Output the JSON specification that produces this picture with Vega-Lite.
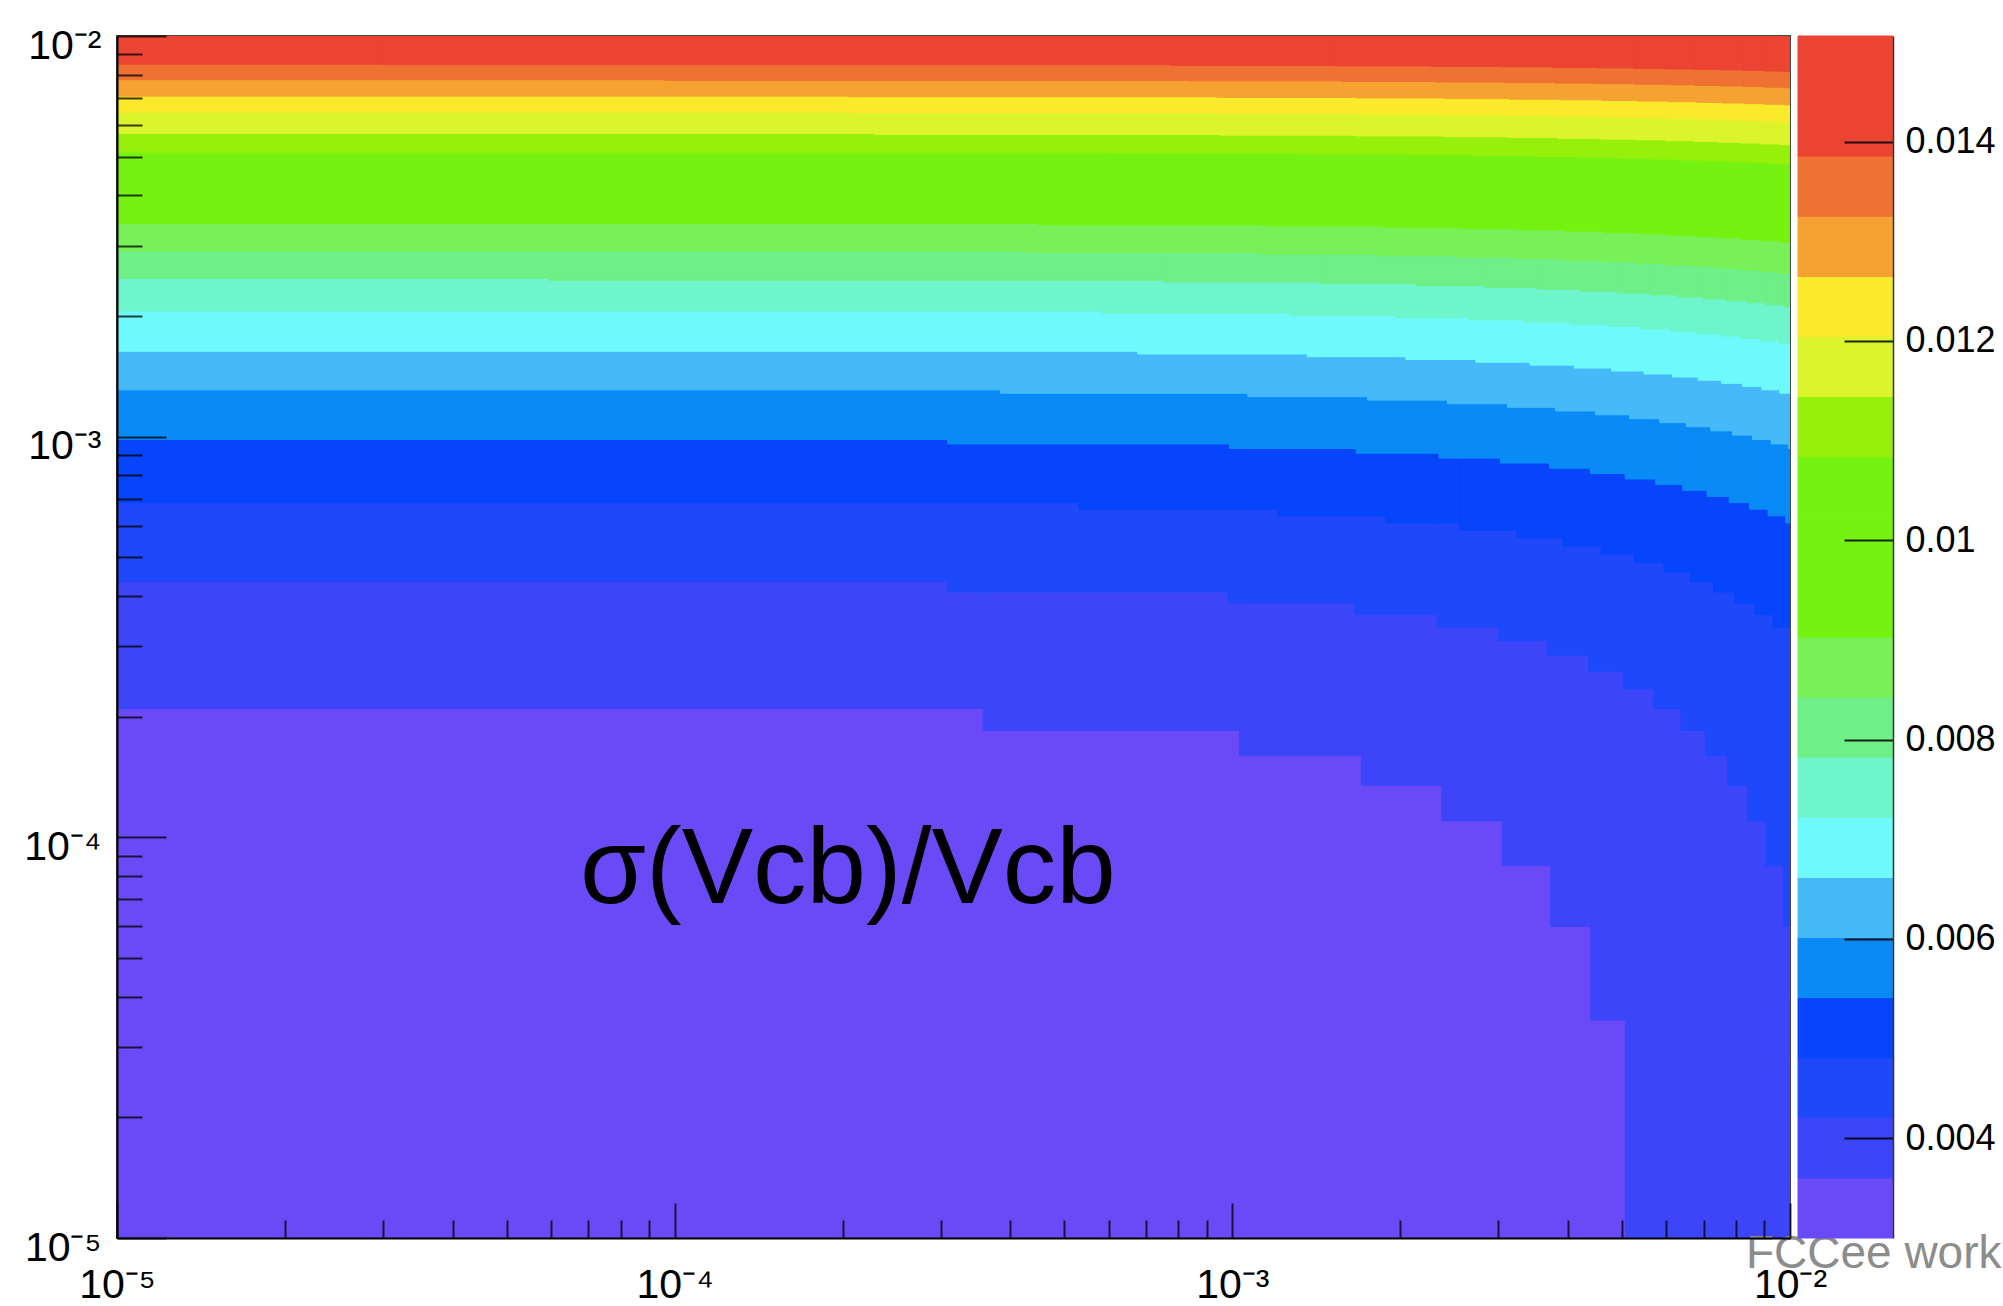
{
  "$schema": "https://vega.github.io/schema/vega-lite/v6.json",
  "background": "white",
  "padding": {"left": 5, "top": 24, "right": 0, "bottom": 0},
  "bounds": "flush",
  "spacing": 8,
  "config": {"view": {"stroke": null}, "axis": {"grid": false, "title": null}},
  "hconcat": [
    {
      "width": 1673,
      "height": 1202,
      "view": {"stroke": "#444", "strokeWidth": 2},
      "resolve": {"axis": {"x": "independent", "y": "independent"}},
      "layer": [
        {
          "data": {"values": [
            {"b":0,"x0":1e-5,"x1":1e-2,"y":1e-5},
            {"b":1,"x0":1e-5,"x1":3.574e-4,"y":2.098e-4},
            {"b":1,"x0":3.574e-4,"x1":1.0303e-3,"y":1.8483e-4},
            {"b":1,"x0":1.0303e-3,"x1":1.7032e-3,"y":1.5985e-4},
            {"b":1,"x0":1.7032e-3,"x1":2.3761e-3,"y":1.3488e-4},
            {"b":1,"x0":2.3761e-3,"x1":3.049e-3,"y":1.099e-4},
            {"b":1,"x0":3.049e-3,"x1":3.7219e-3,"y":8.4925e-5},
            {"b":1,"x0":3.7219e-3,"x1":4.3948e-3,"y":5.995e-5},
            {"b":1,"x0":4.3948e-3,"x1":5.0677e-3,"y":3.4975e-5},
            {"b":1,"x0":5.0677e-3,"x1":1e-2,"y":1e-5},
            {"b":2,"x0":1e-5,"x1":3.087e-4,"y":4.3458e-4},
            {"b":2,"x0":3.087e-4,"x1":9.829e-4,"y":4.096e-4},
            {"b":2,"x0":9.829e-4,"x1":1.6571e-3,"y":3.8463e-4},
            {"b":2,"x0":1.6571e-3,"x1":2.3313e-3,"y":3.5965e-4},
            {"b":2,"x0":2.3313e-3,"x1":3.0055e-3,"y":3.3468e-4},
            {"b":2,"x0":3.0055e-3,"x1":3.6797e-3,"y":3.097e-4},
            {"b":2,"x0":3.6797e-3,"x1":4.3539e-3,"y":2.8473e-4},
            {"b":2,"x0":4.3539e-3,"x1":5.0281e-3,"y":2.5975e-4},
            {"b":2,"x0":5.0281e-3,"x1":5.7023e-3,"y":2.3478e-4},
            {"b":2,"x0":5.7023e-3,"x1":6.3765e-3,"y":2.098e-4},
            {"b":2,"x0":6.3765e-3,"x1":7.0507e-3,"y":1.8483e-4},
            {"b":2,"x0":7.0507e-3,"x1":7.7249e-3,"y":1.5985e-4},
            {"b":2,"x0":7.7249e-3,"x1":8.3991e-3,"y":1.3488e-4},
            {"b":2,"x0":8.3991e-3,"x1":9.0733e-3,"y":1.099e-4},
            {"b":2,"x0":9.0733e-3,"x1":9.7475e-3,"y":8.493e-5},
            {"b":2,"x0":9.7475e-3,"x1":1e-2,"y":5.995e-5},
            {"b":3,"x0":1e-5,"x1":5.307e-4,"y":6.8433e-4},
            {"b":3,"x0":5.307e-4,"x1":1.2073e-3,"y":6.5935e-4},
            {"b":3,"x0":1.2073e-3,"x1":1.8839e-3,"y":6.3438e-4},
            {"b":3,"x0":1.8839e-3,"x1":2.5605e-3,"y":6.094e-4},
            {"b":3,"x0":2.5605e-3,"x1":3.2371e-3,"y":5.8443e-4},
            {"b":3,"x0":3.2371e-3,"x1":3.9137e-3,"y":5.5945e-4},
            {"b":3,"x0":3.9137e-3,"x1":4.5903e-3,"y":5.3448e-4},
            {"b":3,"x0":4.5903e-3,"x1":5.2669e-3,"y":5.095e-4},
            {"b":3,"x0":5.2669e-3,"x1":5.9435e-3,"y":4.8453e-4},
            {"b":3,"x0":5.9435e-3,"x1":6.6201e-3,"y":4.5955e-4},
            {"b":3,"x0":6.6201e-3,"x1":7.2967e-3,"y":4.3458e-4},
            {"b":3,"x0":7.2967e-3,"x1":7.9733e-3,"y":4.096e-4},
            {"b":3,"x0":7.9733e-3,"x1":8.6499e-3,"y":3.8463e-4},
            {"b":3,"x0":8.6499e-3,"x1":9.3265e-3,"y":3.5965e-4},
            {"b":3,"x0":9.3265e-3,"x1":1e-2,"y":3.3468e-4},
            {"b":4,"x0":1e-5,"x1":3.087e-4,"y":9.8403e-4},
            {"b":4,"x0":3.087e-4,"x1":9.879e-4,"y":9.5905e-4},
            {"b":4,"x0":9.879e-4,"x1":1.6671e-3,"y":9.3408e-4},
            {"b":4,"x0":1.6671e-3,"x1":2.3463e-3,"y":9.091e-4},
            {"b":4,"x0":2.3463e-3,"x1":3.0255e-3,"y":8.8413e-4},
            {"b":4,"x0":3.0255e-3,"x1":3.7047e-3,"y":8.5915e-4},
            {"b":4,"x0":3.7047e-3,"x1":4.3839e-3,"y":8.3418e-4},
            {"b":4,"x0":4.3839e-3,"x1":5.0631e-3,"y":8.092e-4},
            {"b":4,"x0":5.0631e-3,"x1":5.7423e-3,"y":7.8423e-4},
            {"b":4,"x0":5.7423e-3,"x1":6.4215e-3,"y":7.5925e-4},
            {"b":4,"x0":6.4215e-3,"x1":7.1007e-3,"y":7.3428e-4},
            {"b":4,"x0":7.1007e-3,"x1":7.7799e-3,"y":7.093e-4},
            {"b":4,"x0":7.7799e-3,"x1":8.4591e-3,"y":6.8433e-4},
            {"b":4,"x0":8.4591e-3,"x1":9.1383e-3,"y":6.5935e-4},
            {"b":4,"x0":9.1383e-3,"x1":9.8175e-3,"y":6.3438e-4},
            {"b":4,"x0":9.8175e-3,"x1":1e-2,"y":6.094e-4},
            {"b":5,"x0":1e-5,"x1":3.84e-4,"y":1.3087e-3},
            {"b":5,"x0":3.84e-4,"x1":1.0661e-3,"y":1.28373e-3},
            {"b":5,"x0":1.0661e-3,"x1":1.7482e-3,"y":1.25875e-3},
            {"b":5,"x0":1.7482e-3,"x1":2.4303e-3,"y":1.23378e-3},
            {"b":5,"x0":2.4303e-3,"x1":3.1124e-3,"y":1.2088e-3},
            {"b":5,"x0":3.1124e-3,"x1":3.7945e-3,"y":1.18383e-3},
            {"b":5,"x0":3.7945e-3,"x1":4.4766e-3,"y":1.15885e-3},
            {"b":5,"x0":4.4766e-3,"x1":5.1587e-3,"y":1.13388e-3},
            {"b":5,"x0":5.1587e-3,"x1":5.8408e-3,"y":1.1089e-3},
            {"b":5,"x0":5.8408e-3,"x1":6.5229e-3,"y":1.08393e-3},
            {"b":5,"x0":6.5229e-3,"x1":7.205e-3,"y":1.05895e-3},
            {"b":5,"x0":7.205e-3,"x1":7.8871e-3,"y":1.03398e-3},
            {"b":5,"x0":7.8871e-3,"x1":8.5692e-3,"y":1.009e-3},
            {"b":5,"x0":8.5692e-3,"x1":9.2513e-3,"y":9.8403e-4},
            {"b":5,"x0":9.2513e-3,"x1":9.9334e-3,"y":9.5905e-4},
            {"b":5,"x0":9.9334e-3,"x1":1e-2,"y":9.3408e-4},
            {"b":6,"x0":1e-5,"x1":6.77e-4,"y":1.63338e-3},
            {"b":6,"x0":6.77e-4,"x1":1.3624e-3,"y":1.6084e-3},
            {"b":6,"x0":1.3624e-3,"x1":2.0478e-3,"y":1.58343e-3},
            {"b":6,"x0":2.0478e-3,"x1":2.7332e-3,"y":1.55845e-3},
            {"b":6,"x0":2.7332e-3,"x1":3.4186e-3,"y":1.53348e-3},
            {"b":6,"x0":3.4186e-3,"x1":4.104e-3,"y":1.5085e-3},
            {"b":6,"x0":4.104e-3,"x1":4.7894e-3,"y":1.48353e-3},
            {"b":6,"x0":4.7894e-3,"x1":5.4748e-3,"y":1.45855e-3},
            {"b":6,"x0":5.4748e-3,"x1":6.1602e-3,"y":1.43358e-3},
            {"b":6,"x0":6.1602e-3,"x1":6.8456e-3,"y":1.4086e-3},
            {"b":6,"x0":6.8456e-3,"x1":7.531e-3,"y":1.38363e-3},
            {"b":6,"x0":7.531e-3,"x1":8.2164e-3,"y":1.35865e-3},
            {"b":6,"x0":8.2164e-3,"x1":8.9018e-3,"y":1.33368e-3},
            {"b":6,"x0":8.9018e-3,"x1":9.5872e-3,"y":1.3087e-3},
            {"b":6,"x0":9.5872e-3,"x1":1e-2,"y":1.28373e-3},
            {"b":7,"x0":1e-5,"x1":5.837e-4,"y":2.05795e-3},
            {"b":7,"x0":5.837e-4,"x1":1.2726e-3,"y":2.03298e-3},
            {"b":7,"x0":1.2726e-3,"x1":1.9615e-3,"y":2.008e-3},
            {"b":7,"x0":1.9615e-3,"x1":2.6504e-3,"y":1.98303e-3},
            {"b":7,"x0":2.6504e-3,"x1":3.3393e-3,"y":1.95805e-3},
            {"b":7,"x0":3.3393e-3,"x1":4.0282e-3,"y":1.93308e-3},
            {"b":7,"x0":4.0282e-3,"x1":4.7171e-3,"y":1.9081e-3},
            {"b":7,"x0":4.7171e-3,"x1":5.406e-3,"y":1.88313e-3},
            {"b":7,"x0":5.406e-3,"x1":6.0949e-3,"y":1.85815e-3},
            {"b":7,"x0":6.0949e-3,"x1":6.7838e-3,"y":1.83318e-3},
            {"b":7,"x0":6.7838e-3,"x1":7.4727e-3,"y":1.8082e-3},
            {"b":7,"x0":7.4727e-3,"x1":8.1616e-3,"y":1.78323e-3},
            {"b":7,"x0":8.1616e-3,"x1":8.8505e-3,"y":1.75825e-3},
            {"b":7,"x0":8.8505e-3,"x1":9.5394e-3,"y":1.73328e-3},
            {"b":7,"x0":9.5394e-3,"x1":1e-2,"y":1.7083e-3},
            {"b":8,"x0":1e-5,"x1":5.94e-5,"y":2.48253e-3},
            {"b":8,"x0":5.94e-5,"x1":7.521e-4,"y":2.45755e-3},
            {"b":8,"x0":7.521e-4,"x1":1.4448e-3,"y":2.43258e-3},
            {"b":8,"x0":1.4448e-3,"x1":2.1375e-3,"y":2.4076e-3},
            {"b":8,"x0":2.1375e-3,"x1":2.8302e-3,"y":2.38263e-3},
            {"b":8,"x0":2.8302e-3,"x1":3.5229e-3,"y":2.35765e-3},
            {"b":8,"x0":3.5229e-3,"x1":4.2156e-3,"y":2.33268e-3},
            {"b":8,"x0":4.2156e-3,"x1":4.9083e-3,"y":2.3077e-3},
            {"b":8,"x0":4.9083e-3,"x1":5.601e-3,"y":2.28273e-3},
            {"b":8,"x0":5.601e-3,"x1":6.2937e-3,"y":2.25775e-3},
            {"b":8,"x0":6.2937e-3,"x1":6.9864e-3,"y":2.23278e-3},
            {"b":8,"x0":6.9864e-3,"x1":7.6791e-3,"y":2.2078e-3},
            {"b":8,"x0":7.6791e-3,"x1":8.3718e-3,"y":2.18283e-3},
            {"b":8,"x0":8.3718e-3,"x1":9.0645e-3,"y":2.15785e-3},
            {"b":8,"x0":9.0645e-3,"x1":9.7572e-3,"y":2.13288e-3},
            {"b":8,"x0":9.7572e-3,"x1":1e-2,"y":2.1079e-3},
            {"b":9,"x0":1e-5,"x1":4.242e-4,"y":2.9071e-3},
            {"b":9,"x0":4.242e-4,"x1":1.121e-3,"y":2.88213e-3},
            {"b":9,"x0":1.121e-3,"x1":1.8178e-3,"y":2.85715e-3},
            {"b":9,"x0":1.8178e-3,"x1":2.5146e-3,"y":2.83218e-3},
            {"b":9,"x0":2.5146e-3,"x1":3.2114e-3,"y":2.8072e-3},
            {"b":9,"x0":3.2114e-3,"x1":3.9082e-3,"y":2.78223e-3},
            {"b":9,"x0":3.9082e-3,"x1":4.605e-3,"y":2.75725e-3},
            {"b":9,"x0":4.605e-3,"x1":5.3018e-3,"y":2.73228e-3},
            {"b":9,"x0":5.3018e-3,"x1":5.9986e-3,"y":2.7073e-3},
            {"b":9,"x0":5.9986e-3,"x1":6.6954e-3,"y":2.68233e-3},
            {"b":9,"x0":6.6954e-3,"x1":7.3922e-3,"y":2.65735e-3},
            {"b":9,"x0":7.3922e-3,"x1":8.089e-3,"y":2.63238e-3},
            {"b":9,"x0":8.089e-3,"x1":8.7858e-3,"y":2.6074e-3},
            {"b":9,"x0":8.7858e-3,"x1":9.4826e-3,"y":2.58243e-3},
            {"b":9,"x0":9.4826e-3,"x1":1e-2,"y":2.55745e-3},
            {"b":10,"x0":1e-5,"x1":4.48e-4,"y":3.4066e-3},
            {"b":10,"x0":4.48e-4,"x1":1.1492e-3,"y":3.38163e-3},
            {"b":10,"x0":1.1492e-3,"x1":1.8504e-3,"y":3.35665e-3},
            {"b":10,"x0":1.8504e-3,"x1":2.5516e-3,"y":3.33168e-3},
            {"b":10,"x0":2.5516e-3,"x1":3.2528e-3,"y":3.3067e-3},
            {"b":10,"x0":3.2528e-3,"x1":3.954e-3,"y":3.28173e-3},
            {"b":10,"x0":3.954e-3,"x1":4.6552e-3,"y":3.25675e-3},
            {"b":10,"x0":4.6552e-3,"x1":5.3564e-3,"y":3.23178e-3},
            {"b":10,"x0":5.3564e-3,"x1":6.0576e-3,"y":3.2068e-3},
            {"b":10,"x0":6.0576e-3,"x1":6.7588e-3,"y":3.18183e-3},
            {"b":10,"x0":6.7588e-3,"x1":7.46e-3,"y":3.15685e-3},
            {"b":10,"x0":7.46e-3,"x1":8.1612e-3,"y":3.13188e-3},
            {"b":10,"x0":8.1612e-3,"x1":8.8624e-3,"y":3.1069e-3},
            {"b":10,"x0":8.8624e-3,"x1":9.5636e-3,"y":3.08193e-3},
            {"b":10,"x0":9.5636e-3,"x1":1e-2,"y":3.05695e-3},
            {"b":13,"x0":1e-5,"x1":6.02e-4,"y":5.12988e-3},
            {"b":13,"x0":6.02e-4,"x1":1.3179e-3,"y":5.1049e-3},
            {"b":13,"x0":1.3179e-3,"x1":2.0338e-3,"y":5.07993e-3},
            {"b":13,"x0":2.0338e-3,"x1":2.7497e-3,"y":5.05495e-3},
            {"b":13,"x0":2.7497e-3,"x1":3.4656e-3,"y":5.02998e-3},
            {"b":13,"x0":3.4656e-3,"x1":4.1815e-3,"y":5.005e-3},
            {"b":13,"x0":4.1815e-3,"x1":4.8974e-3,"y":4.98003e-3},
            {"b":13,"x0":4.8974e-3,"x1":5.6133e-3,"y":4.95505e-3},
            {"b":13,"x0":5.6133e-3,"x1":6.3292e-3,"y":4.93008e-3},
            {"b":13,"x0":6.3292e-3,"x1":7.0451e-3,"y":4.9051e-3},
            {"b":13,"x0":7.0451e-3,"x1":7.761e-3,"y":4.88013e-3},
            {"b":13,"x0":7.761e-3,"x1":8.4769e-3,"y":4.85515e-3},
            {"b":13,"x0":8.4769e-3,"x1":9.1928e-3,"y":4.83018e-3},
            {"b":13,"x0":9.1928e-3,"x1":9.9087e-3,"y":4.8052e-3},
            {"b":13,"x0":9.9087e-3,"x1":1e-2,"y":4.78023e-3},
            {"b":14,"x0":1e-5,"x1":2.286e-4,"y":5.7043e-3},
            {"b":14,"x0":2.286e-4,"x1":9.5e-4,"y":5.67933e-3},
            {"b":14,"x0":9.5e-4,"x1":1.6714e-3,"y":5.65435e-3},
            {"b":14,"x0":1.6714e-3,"x1":2.3928e-3,"y":5.62938e-3},
            {"b":14,"x0":2.3928e-3,"x1":3.1142e-3,"y":5.6044e-3},
            {"b":14,"x0":3.1142e-3,"x1":3.8356e-3,"y":5.57943e-3},
            {"b":14,"x0":3.8356e-3,"x1":4.557e-3,"y":5.55445e-3},
            {"b":14,"x0":4.557e-3,"x1":5.2784e-3,"y":5.52948e-3},
            {"b":14,"x0":5.2784e-3,"x1":5.9998e-3,"y":5.5045e-3},
            {"b":14,"x0":5.9998e-3,"x1":6.7212e-3,"y":5.47953e-3},
            {"b":14,"x0":6.7212e-3,"x1":7.4426e-3,"y":5.45455e-3},
            {"b":14,"x0":7.4426e-3,"x1":8.164e-3,"y":5.42958e-3},
            {"b":14,"x0":8.164e-3,"x1":8.8854e-3,"y":5.4046e-3},
            {"b":14,"x0":8.8854e-3,"x1":9.6068e-3,"y":5.37963e-3},
            {"b":14,"x0":9.6068e-3,"x1":1e-2,"y":5.35465e-3},
            {"b":15,"x0":1e-5,"x1":2.103e-4,"y":6.45355e-3},
            {"b":15,"x0":2.103e-4,"x1":9.373e-4,"y":6.42858e-3},
            {"b":15,"x0":9.373e-4,"x1":1.6643e-3,"y":6.4036e-3},
            {"b":15,"x0":1.6643e-3,"x1":2.3913e-3,"y":6.37863e-3},
            {"b":15,"x0":2.3913e-3,"x1":3.1183e-3,"y":6.35365e-3},
            {"b":15,"x0":3.1183e-3,"x1":3.8453e-3,"y":6.32868e-3},
            {"b":15,"x0":3.8453e-3,"x1":4.5723e-3,"y":6.3037e-3},
            {"b":15,"x0":4.5723e-3,"x1":5.2993e-3,"y":6.27873e-3},
            {"b":15,"x0":5.2993e-3,"x1":6.0263e-3,"y":6.25375e-3},
            {"b":15,"x0":6.0263e-3,"x1":6.7533e-3,"y":6.22878e-3},
            {"b":15,"x0":6.7533e-3,"x1":7.4803e-3,"y":6.2038e-3},
            {"b":15,"x0":7.4803e-3,"x1":8.2073e-3,"y":6.17883e-3},
            {"b":15,"x0":8.2073e-3,"x1":8.9343e-3,"y":6.15385e-3},
            {"b":15,"x0":8.9343e-3,"x1":9.6613e-3,"y":6.12888e-3},
            {"b":15,"x0":9.6613e-3,"x1":1e-2,"y":6.1039e-3},
            {"b":16,"x0":1e-5,"x1":2.05e-4,"y":7.07793e-3},
            {"b":16,"x0":2.05e-4,"x1":9.38e-4,"y":7.05295e-3},
            {"b":16,"x0":9.38e-4,"x1":1.671e-3,"y":7.02798e-3},
            {"b":16,"x0":1.671e-3,"x1":2.404e-3,"y":7.003e-3},
            {"b":16,"x0":2.404e-3,"x1":3.137e-3,"y":6.97803e-3},
            {"b":16,"x0":3.137e-3,"x1":3.87e-3,"y":6.95305e-3},
            {"b":16,"x0":3.87e-3,"x1":4.603e-3,"y":6.92808e-3},
            {"b":16,"x0":4.603e-3,"x1":5.336e-3,"y":6.9031e-3},
            {"b":16,"x0":5.336e-3,"x1":6.069e-3,"y":6.87813e-3},
            {"b":16,"x0":6.069e-3,"x1":6.802e-3,"y":6.85315e-3},
            {"b":16,"x0":6.802e-3,"x1":7.535e-3,"y":6.82818e-3},
            {"b":16,"x0":7.535e-3,"x1":8.268e-3,"y":6.8032e-3},
            {"b":16,"x0":8.268e-3,"x1":9.001e-3,"y":6.77823e-3},
            {"b":16,"x0":9.001e-3,"x1":9.734e-3,"y":6.75325e-3},
            {"b":16,"x0":9.734e-3,"x1":1e-2,"y":6.72828e-3},
            {"b":17,"x0":1e-5,"x1":9.6e-5,"y":7.77723e-3},
            {"b":17,"x0":9.6e-5,"x1":8.351e-4,"y":7.75225e-3},
            {"b":17,"x0":8.351e-4,"x1":1.5742e-3,"y":7.72728e-3},
            {"b":17,"x0":1.5742e-3,"x1":2.3133e-3,"y":7.7023e-3},
            {"b":17,"x0":2.3133e-3,"x1":3.0524e-3,"y":7.67733e-3},
            {"b":17,"x0":3.0524e-3,"x1":3.7915e-3,"y":7.65235e-3},
            {"b":17,"x0":3.7915e-3,"x1":4.5306e-3,"y":7.62738e-3},
            {"b":17,"x0":4.5306e-3,"x1":5.2697e-3,"y":7.6024e-3},
            {"b":17,"x0":5.2697e-3,"x1":6.0088e-3,"y":7.57743e-3},
            {"b":17,"x0":6.0088e-3,"x1":6.7479e-3,"y":7.55245e-3},
            {"b":17,"x0":6.7479e-3,"x1":7.487e-3,"y":7.52748e-3},
            {"b":17,"x0":7.487e-3,"x1":8.2261e-3,"y":7.5025e-3},
            {"b":17,"x0":8.2261e-3,"x1":8.9652e-3,"y":7.47753e-3},
            {"b":17,"x0":8.9652e-3,"x1":9.7043e-3,"y":7.45255e-3},
            {"b":17,"x0":9.7043e-3,"x1":1e-2,"y":7.42758e-3},
            {"b":18,"x0":1e-5,"x1":3e-5,"y":8.5015e-3},
            {"b":18,"x0":3e-5,"x1":7.753e-4,"y":8.47653e-3},
            {"b":18,"x0":7.753e-4,"x1":1.5206e-3,"y":8.45155e-3},
            {"b":18,"x0":1.5206e-3,"x1":2.2659e-3,"y":8.42658e-3},
            {"b":18,"x0":2.2659e-3,"x1":3.0112e-3,"y":8.4016e-3},
            {"b":18,"x0":3.0112e-3,"x1":3.7565e-3,"y":8.37663e-3},
            {"b":18,"x0":3.7565e-3,"x1":4.5018e-3,"y":8.35165e-3},
            {"b":18,"x0":4.5018e-3,"x1":5.2471e-3,"y":8.32668e-3},
            {"b":18,"x0":5.2471e-3,"x1":5.9924e-3,"y":8.3017e-3},
            {"b":18,"x0":5.9924e-3,"x1":6.7377e-3,"y":8.27673e-3},
            {"b":18,"x0":6.7377e-3,"x1":7.483e-3,"y":8.25175e-3},
            {"b":18,"x0":7.483e-3,"x1":8.2283e-3,"y":8.22678e-3},
            {"b":18,"x0":8.2283e-3,"x1":8.9736e-3,"y":8.2018e-3},
            {"b":18,"x0":8.9736e-3,"x1":9.7189e-3,"y":8.17683e-3},
            {"b":18,"x0":9.7189e-3,"x1":1e-2,"y":8.15185e-3}
          ]},
          "mark": {"type": "rect", "clip": true, "strokeWidth": 1},
          "encoding": {
            "x": {"field": "x0", "type": "quantitative",
              "scale": {"type": "log", "domain": [1e-5, 0.01], "nice": false},
              "axis": {"orient": "bottom", "values": [1e-5, 1e-4, 1e-3, 1e-2], "zindex": 1,
                "tickSize": -35, "tickWidth": 2, "tickColor": "#000", "tickOpacity": 0.75,
                "domain": true, "domainColor": "#000", "domainWidth": 2,
                "labelPadding": 62, "labelFont": "Liberation Sans, Arial, sans-serif",
                "labelFontSize": 41, "labelColor": "#000", "labelFlush": false, "labelOverlap": false,
                "labelExpr": "datum.value < 2e-5 ? '10⁻⁵' : datum.value < 2e-4 ? '10⁻⁴' : datum.value < 2e-3 ? '10⁻³' : '10⁻²'",
                "title": null, "grid": false}},
            "x2": {"field": "x1"},
            "y": {"field": "y", "type": "quantitative",
              "scale": {"type": "log", "domain": [1e-5, 0.01], "nice": false},
              "axis": {"orient": "left", "values": [1e-5, 1e-4, 1e-3, 1e-2], "zindex": 1,
                "tickSize": -49, "tickWidth": 2, "tickColor": "#000", "tickOpacity": 0.75,
                "domain": true, "domainColor": "#000", "domainWidth": 2,
                "labelPadding": 65, "labelOffset": 10, "labelFont": "Liberation Sans, Arial, sans-serif",
                "labelFontSize": 41, "labelColor": "#000", "labelFlush": false, "labelOverlap": false,
                "minExtent": 111, "maxExtent": 111,
                "labelExpr": "datum.value < 2e-5 ? '10⁻⁵' : datum.value < 2e-4 ? '10⁻⁴' : datum.value < 2e-3 ? '10⁻³' : '10⁻²'",
                "title": null, "grid": false}},
            "y2": {"datum": 0.01},
            "color": {"field": "b", "type": "ordinal",
              "scale": {"domain": [0,1,2,3,4,5,6,7,8,9,10,11,12,13,14,15,16,17,18,19],
                "range": ["#6A4AF6","#3C46F8","#1F48FA","#0645FA","#0A8AF6","#46BAF9","#6EFAFC","#6EF5CC","#6EEF88","#78F058","#76F212","#76F212","#76F212","#96F00C","#DCF42C","#FBEA2B","#F5A232","#EF7232","#EC4432","#EC4432"]},
              "legend": null},
            "stroke": {"field": "b", "type": "ordinal",
              "scale": {"domain": [0,1,2,3,4,5,6,7,8,9,10,11,12,13,14,15,16,17,18,19],
                "range": ["#6A4AF6","#3C46F8","#1F48FA","#0645FA","#0A8AF6","#46BAF9","#6EFAFC","#6EF5CC","#6EEF88","#78F058","#76F212","#76F212","#76F212","#96F00C","#DCF42C","#FBEA2B","#F5A232","#EF7232","#EC4432","#EC4432"]},
              "legend": null}
          }
        },
        {
          "data": {"values": [{"label": "σ(Vcb)/Vcb", "x": 2.045e-4, "y": 6.87e-5}]},
          "mark": {"type": "text", "font": "Liberation Sans", "fontSize": 107, "color": "#000", "align": "center", "baseline": "alphabetic"},
          "encoding": {
            "x": {"field": "x", "type": "quantitative",
              "scale": {"type": "log", "domain": [1e-5, 0.01], "nice": false},
              "axis": {"orient": "bottom", "zindex": 1,
                "values": [2e-5,3e-5,4e-5,5e-5,6e-5,7e-5,8e-5,9e-5,2e-4,3e-4,4e-4,5e-4,6e-4,7e-4,8e-4,9e-4,2e-3,3e-3,4e-3,5e-3,6e-3,7e-3,8e-3,9e-3],
                "tickSize": -18, "tickWidth": 2, "tickColor": "#000", "tickOpacity": 0.75,
                "labels": false, "domain": false, "title": null, "grid": false}},
            "y": {"field": "y", "type": "quantitative",
              "scale": {"type": "log", "domain": [1e-5, 0.01], "nice": false},
              "axis": {"orient": "left", "zindex": 1,
                "values": [2e-5,3e-5,4e-5,5e-5,6e-5,7e-5,8e-5,9e-5,2e-4,3e-4,4e-4,5e-4,6e-4,7e-4,8e-4,9e-4,2e-3,3e-3,4e-3,5e-3,6e-3,7e-3,8e-3,9e-3],
                "tickSize": -25, "tickWidth": 2, "tickColor": "#000", "tickOpacity": 0.75,
                "labels": false, "domain": false, "title": null, "grid": false}},
            "text": {"field": "label"}
          }
        },
        {
          "data": {"values": [{"label": "FCCee work", "x": 8.336e-3, "y": 8.43e-6}]},
          "mark": {"type": "text", "font": "Liberation Sans", "fontSize": 46, "color": "#8C8C8C", "align": "left", "baseline": "alphabetic"},
          "encoding": {
            "x": {"field": "x", "type": "quantitative", "scale": {"type": "log", "domain": [1e-5, 0.01], "nice": false}, "axis": null},
            "y": {"field": "y", "type": "quantitative", "scale": {"type": "log", "domain": [1e-5, 0.01], "nice": false}, "axis": null},
            "text": {"field": "label"}
          }
        }
      ]
    },
    {
      "width": 95,
      "height": 1202,
      "data": {"values": [
        {"b":0,"lo":0.003,"hi":0.003603},
        {"b":1,"lo":0.003603,"hi":0.004206},
        {"b":2,"lo":0.004206,"hi":0.004809},
        {"b":3,"lo":0.004809,"hi":0.005412},
        {"b":4,"lo":0.005412,"hi":0.006015},
        {"b":5,"lo":0.006015,"hi":0.006618},
        {"b":6,"lo":0.006618,"hi":0.007221},
        {"b":7,"lo":0.007221,"hi":0.007824},
        {"b":8,"lo":0.007824,"hi":0.008427},
        {"b":9,"lo":0.008427,"hi":0.00903},
        {"b":10,"lo":0.00903,"hi":0.009633},
        {"b":11,"lo":0.009633,"hi":0.010236},
        {"b":12,"lo":0.010236,"hi":0.010839},
        {"b":13,"lo":0.010839,"hi":0.011442},
        {"b":14,"lo":0.011442,"hi":0.012045},
        {"b":15,"lo":0.012045,"hi":0.012648},
        {"b":16,"lo":0.012648,"hi":0.013251},
        {"b":17,"lo":0.013251,"hi":0.013854},
        {"b":18,"lo":0.013854,"hi":0.014457},
        {"b":19,"lo":0.014457,"hi":0.01506}
      ]},
      "mark": {"type": "rect", "strokeWidth": 1},
      "encoding": {
        "y": {"field": "lo", "type": "quantitative",
          "scale": {"domain": [0.003, 0.01506], "nice": false, "zero": false},
          "axis": {"orient": "right", "values": [0.004, 0.006, 0.008, 0.01, 0.012, 0.014], "zindex": 1,
            "tickSize": -49, "tickWidth": 2, "tickColor": "#000", "tickOpacity": 0.85,
            "domain": true, "domainColor": "#333", "domainWidth": 1.5,
            "labelPadding": 61, "labelFont": "Liberation Sans, Arial, sans-serif",
            "labelFontSize": 36, "labelColor": "#000", "labelFlush": false, "labelOverlap": false,
            "format": "~g", "title": null, "grid": false}},
        "y2": {"field": "hi"},
        "color": {"field": "b", "type": "ordinal",
          "scale": {"domain": [0,1,2,3,4,5,6,7,8,9,10,11,12,13,14,15,16,17,18,19],
            "range": ["#6A4AF6","#3C46F8","#1F48FA","#0645FA","#0A8AF6","#46BAF9","#6EFAFC","#6EF5CC","#6EEF88","#78F058","#76F212","#76F212","#76F212","#96F00C","#DCF42C","#FBEA2B","#F5A232","#EF7232","#EC4432","#EC4432"]},
          "legend": null},
        "stroke": {"field": "b", "type": "ordinal",
          "scale": {"domain": [0,1,2,3,4,5,6,7,8,9,10,11,12,13,14,15,16,17,18,19],
            "range": ["#6A4AF6","#3C46F8","#1F48FA","#0645FA","#0A8AF6","#46BAF9","#6EFAFC","#6EF5CC","#6EEF88","#78F058","#76F212","#76F212","#76F212","#96F00C","#DCF42C","#FBEA2B","#F5A232","#EF7232","#EC4432","#EC4432"]},
          "legend": null}
      }
    }
  ]
}
